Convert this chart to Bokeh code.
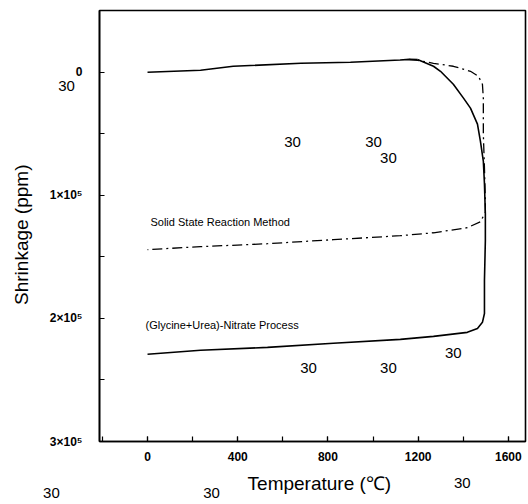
import math
from bokeh.plotting import figure
from bokeh.models import Range1d, FixedTicker, Label
from bokeh.embed import file_html
from bokeh.resources import INLINE

# ---- data ----
# common heating branch (both powders expand slightly up to ~1200 C)
heat_T = [0, 235, 380, 680, 900, 1120, 1160, 1197]
heat_y = [0, -1600, -4900, -7300, -8100, -10000, -10500, -10300]

# (Glycine+Urea)-Nitrate Process: sintering + cooling branch
gun_T = [1197, 1268, 1299, 1356, 1401, 1432, 1463, 1476, 1489, 1494, 1498, 1498,
         1494, 1494, 1485, 1463, 1418, 1268, 1121, 824, 532, 235, 0]
gun_y = [-10300, -4900, -800, 9700, 21000, 29100, 42100, 55900, 72100, 90700, 115000, 136800,
         169200, 196000, 203200, 208100, 211300, 214600, 217000, 220200, 223500, 225900, 229100]

# Solid State Reaction Method: sintering + cooling branch
ssr_T = [1160, 1197, 1268, 1356, 1432, 1467, 1485, 1489, 1489, 1494, 1498, 1498,
         1476, 1418, 1268, 1121, 824, 532, 235, 0]
ssr_y = [-10500, -9700, -7300, -4900, -800, 3200, 9700, 21000, 50200, 77700, 104500, 113800,
         121500, 126300, 130400, 132800, 136000, 139300, 141700, 144100]

x_ticks = [0, 400, 800, 1200, 1600]
y_ticks = [0, 100000, 200000, 300000]
y_tick_labels = ["0", "1×10⁵", "2×10⁵", "3×10⁵"]

x_title = "Temperature (℃)"
y_title = "Shrinkage (ppm)"
series_labels = ["Solid State Reaction Method", "(Glycine+Urea)-Nitrate Process"]
stray_text = "30"

# ---- figure ----
p = figure(width=528, height=504, output_backend="svg", toolbar_location=None,
           x_range=Range1d(-213, 1676), y_range=Range1d(300000, -50200),
           min_border_left=99, min_border_right=3, min_border_top=9, min_border_bottom=63)
p.background_fill_color = "white"
p.border_fill_color = "white"
p.grid.visible = False
p.outline_line_color = "black"
p.outline_line_width = 1.6

# axes
p.xaxis.ticker = FixedTicker(ticks=x_ticks, minor_ticks=list(range(-200, 1700, 200)))
p.yaxis.ticker = FixedTicker(ticks=y_ticks, minor_ticks=[-50000, 50000, 150000, 250000])
p.yaxis.major_label_overrides = {t: s for t, s in zip(y_ticks, y_tick_labels)}
for ax in (p.xaxis[0], p.yaxis[0]):
    ax.axis_line_width = 1.6
    ax.major_tick_in = 5
    ax.major_tick_out = 0
    ax.minor_tick_in = 5
    ax.minor_tick_out = 0
    ax.major_tick_line_width = 1.2
    ax.minor_tick_line_width = 1.2
    ax.major_label_text_font = "Liberation Sans"
    ax.major_label_text_font_style = "bold"
    ax.major_label_text_font_size = "12px"
    ax.major_label_text_color = "black"
p.xaxis.major_label_standoff = 10
p.yaxis.major_label_standoff = 17

# axis titles (drawn in the side panels)
p.add_layout(Label(x=762, y=334400, text=x_title, text_font="Liberation Sans",
                   text_font_size="19px", text_align="center", text_baseline="middle",
                   text_color="black"), "below")
p.add_layout(Label(x=-559, y=132000, text=y_title, text_font="Liberation Sans",
                   text_font_size="19px", text_align="center", text_baseline="middle",
                   text_color="black", angle=math.pi / 2), "left")

# curves
p.line(heat_T, heat_y, line_color="black", line_width=1.6)
p.line(gun_T, gun_y, line_color="black", line_width=1.6)
p.line(ssr_T, ssr_y, line_color="black", line_width=1.3, line_dash="10 4 2 4")

# curve labels
p.add_layout(Label(x=13, y=121500, text=series_labels[0], text_font="Liberation Sans",
                   text_font_size="11px", text_baseline="middle", text_align="left",
                   text_color="black"))
p.add_layout(Label(x=-9, y=205700, text=series_labels[1], text_font="Liberation Sans",
                   text_font_size="11px", text_baseline="middle", text_align="left",
                   text_color="black"))

# stray "30" marks of the scanned page
inside_pos = [(643, 56700), (1002, 56700), (1068, 69600),
              (1356, 228300), (714, 240500), (1068, 240500)]
left_pos = [(-359, 11300)]
above_pos = [(-426, 342000)]
below_pos = [(284, 342000), (1396, 333600)]

def stray(x, y):
    return Label(x=x, y=y, text=stray_text, text_font="Liberation Sans",
                 text_font_size="15px", text_align="center", text_baseline="middle",
                 text_color="black")

for sx, sy in inside_pos:
    p.add_layout(stray(sx, sy))
for sx, sy in left_pos:
    p.add_layout(stray(sx, sy), "left")
for sx, sy in above_pos:
    p.add_layout(stray(sx, sy), "above")
for sx, sy in below_pos:
    p.add_layout(stray(sx, sy), "below")

open("out.html", "w").write(file_html(p, INLINE))
